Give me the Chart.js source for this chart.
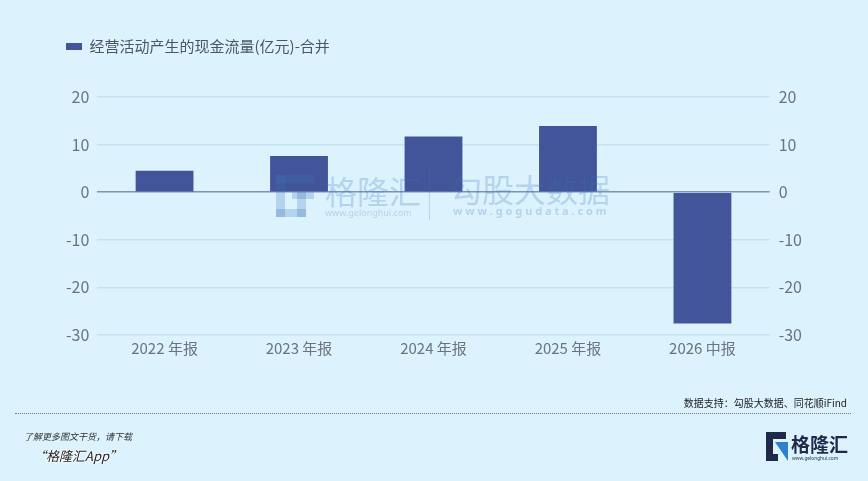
<!DOCTYPE html>
<html>
<head>
<meta charset="utf-8">
<script src="https://cdn.jsdelivr.net/npm/chart.js@4.4.1/dist/chart.umd.min.js"></script>
<style>
  html, body { margin: 0; padding: 0; background: #dcf3fe; }
  #wrap { position: relative; width: 868px; height: 481px; background: #dcf3fe; overflow: hidden;
          font-family: 'Noto Sans CJK SC', 'Noto Sans', sans-serif; }
  #chart { position: absolute; left: 0; top: 0; }
  .src { position: absolute; right: 21px; top: 395px; font-size: 10px; color: #222; }
  .rule { position: absolute; left: 15px; top: 413px; width: 836px; border-top: 1px dotted #777; }
  .tip { position: absolute; left: 24px; top: 430px; font-size: 9px; color: #333; font-style: italic; }
  .app { position: absolute; left: 33px; top: 446px; font-size: 13px; color: #222; font-style: italic;
         text-shadow: 0 0 2px #fff, 0 0 2px #fff, 0 0 2px #fff; }
  .logo { position: absolute; left: 764px; top: 429px; width: 88px; height: 34px; }
</style>
</head>
<body>
<div id="wrap">
  <canvas id="chart" width="868" height="481"></canvas>
  <div class="src">数据支持：勾股大数据、同花顺iFind</div>
  <div class="rule"></div>
  <div class="tip">了解更多图文干货，请下载</div>
  <div class="app">“格隆汇App”</div>
  <svg class="logo" viewBox="0 0 88 34">
    <path d="M2 3 h20 v7 h-13 v15 h5 v7 h-12 z" fill="#1f2a4a"/>
    <path d="M11 13 h13 v19 z" fill="#2f7fd0"/>
    <text x="27" y="23" font-size="19" font-weight="bold" fill="#1f2a4a" font-family="Noto Sans CJK SC">格隆汇</text>
    <text x="28" y="31" font-size="4.8" fill="#1f2a4a" font-family="Noto Sans">www.gelonghui.com</text>
  </svg>
</div>
<script>
const categories = ['2022 年报', '2023 年报', '2024 年报', '2025 年报', '2026 中报'];
const cashFlow = [4.5, 7.6, 11.7, 13.9, -27.6];
const seriesName = '经营活动产生的现金流量(亿元)-合并';
const yMin = -30, yMax = 20, yStep = 10;

Chart.defaults.font.family = "'Noto Sans CJK SC', 'Noto Sans', sans-serif";

// push the plot down below the legend
const legendGap = {
    id: 'legendGap',
    beforeInit(chart) {
        const fit = chart.legend.fit;
        chart.legend.fit = function () {
            fit.bind(chart.legend)();
            this.height += 33;
        };
    }
};

// faint site watermark over the middle of the plot
const watermark = {
    id: 'watermark',
    afterDatasetsDraw(chart) {
        const ctx = chart.ctx;
        ctx.save();
        ctx.globalAlpha = 0.25;
        ctx.fillStyle = '#3a72b8';
        ctx.fillRect(276, 175, 38, 8);
        ctx.fillRect(276, 175, 9, 42);
        ctx.fillRect(276, 209, 30, 8);
        ctx.fillRect(297, 192, 9, 25);
        ctx.fillRect(292, 192, 22, 7);
        ctx.font = "32px 'Noto Sans CJK SC'";
        ctx.textBaseline = 'middle';
        ctx.fillText('格隆汇', 325, 192);
        ctx.fillText('勾股大数据', 450, 190);
        ctx.font = "9px 'Noto Sans'";
        ctx.fillText('www.gelonghui.com', 325, 213);
        ctx.font = "bold 11px 'Noto Sans'";
        ctx.fillText('w w w . g o g u d a t a . c o m', 453, 212);
        ctx.fillRect(429, 168, 1, 52);
        ctx.restore();
    }
};

new Chart(document.getElementById('chart'), {
    type: 'bar',
    data: {
        labels: categories,
        datasets: [{
            label: seriesName,
            data: cashFlow,
            backgroundColor: '#42549a',
            borderWidth: 0,
            barPercentage: 0.43,
            categoryPercentage: 1,
            yAxisID: 'y'
        }]
    },
    options: {
        responsive: false,
        animation: false,
        layout: { padding: { left: 58, right: 57, top: 31, bottom: 120 } },
        plugins: {
            legend: {
                position: 'top',
                align: 'start',
                labels: {
                    boxWidth: 16,
                    boxHeight: 7,
                    color: '#4d5563',
                    font: { size: 15 },
                    padding: 8
                }
            },
            tooltip: { enabled: false }
        },
        scales: {
            x: {
                grid: { display: false, drawTicks: false },
                border: { display: false },
                ticks: { color: '#6b7380', font: { size: 15 }, padding: 4 }
            },
            y: {
                position: 'left',
                min: yMin, max: yMax,
                ticks: { stepSize: yStep, color: '#6b7380', font: { size: 16 }, padding: 8 },
                border: { display: false },
                grid: {
                    drawTicks: false,
                    color: c => c.tick && c.tick.value === 0 ? '#7c92b6' : '#c4e2f2',
                    lineWidth: 1.5
                }
            },
            y2: {
                position: 'right',
                min: yMin, max: yMax,
                ticks: { stepSize: yStep, color: '#6b7380', font: { size: 16 }, padding: 9 },
                border: { display: false },
                grid: { display: false, drawTicks: false }
            }
        }
    },
    plugins: [legendGap, watermark]
});
</script>
</body>
</html>
